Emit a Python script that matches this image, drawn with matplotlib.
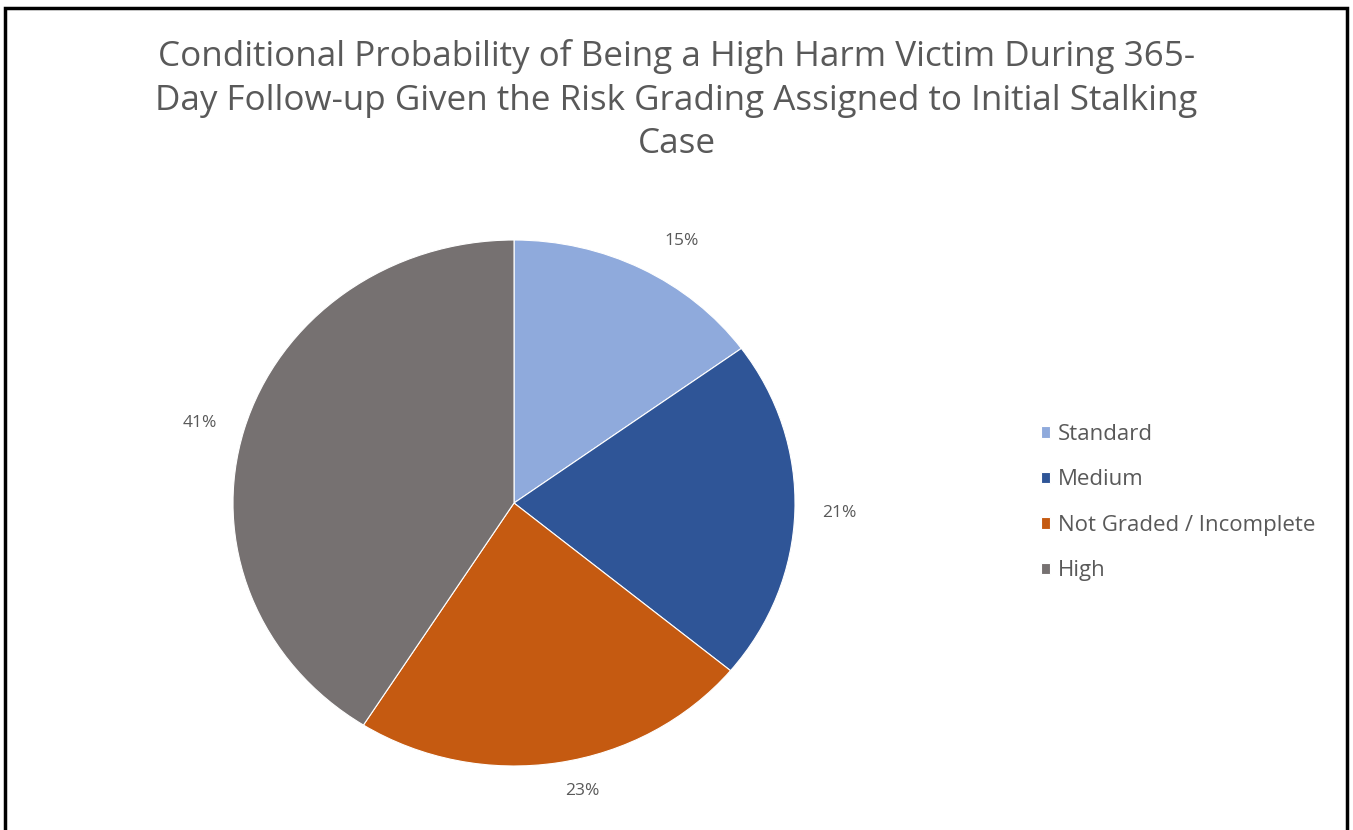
import matplotlib
matplotlib.use("Agg")
import matplotlib.pyplot as plt
import numpy as np
from matplotlib.patches import Rectangle

# Share of high harm victims by initial risk grading
categories = ["Standard", "Medium", "Not Graded / Incomplete", "High"]
shares = [15, 21, 23, 41]
colors = ["#8FAADC", "#2F5597", "#C55A11", "#767171"]

title = ("Conditional Probability of Being a High Harm Victim During 365-\n"
         "Day Follow-up Given the Risk Grading Assigned to Initial Stalking\n"
         "Case")

W, H = 1353, 830
plt.rcParams["font.family"] = ["Open Sans", "DejaVu Sans"]
fig = plt.figure(figsize=(W / 100, H / 100), dpi=100)

# pie box in pixel terms (centre ~514,503)
left, right, top, bottom = 233, 795, 240, 766
ax = fig.add_axes([left / W, (H - bottom) / H, (right - left) / W, (bottom - top) / H])
wedges, texts, autotexts = ax.pie(
    shares, colors=colors, startangle=90, counterclock=False,
    autopct="%1.0f%%", pctdistance=1.16,
    wedgeprops=dict(edgecolor="white", linewidth=0.8),
    textprops=dict(color="#595959", fontsize=12.5),
)
ax.set_aspect("auto")
ax.set_xlim(-1, 1)
ax.set_ylim(-1, 1)

# best-fit style label placement: small angular shift and radius per slice
label_shift = [-4.0, 0.0, 3.5, 1.0]
label_radius = [1.16, 1.16, 1.12, 1.16]
for w, t, da, r in zip(wedges, autotexts, label_shift, label_radius):
    ang = np.deg2rad((w.theta1 + w.theta2) / 2 + da)
    t.set_position((r * np.cos(ang), r * np.sin(ang)))

fig.text(0.5, 1 - 100 / H, title, ha="center", va="center", fontsize=25.2,
         color="#595959", linespacing=1.38)

ax.legend(wedges, categories, loc="upper left",
          bbox_to_anchor=(1032 / W, 1 - 415 / H), bbox_transform=fig.transFigure,
          frameon=False, fontsize=16, labelcolor="#595959",
          handlelength=0.42, handleheight=0.42, handletextpad=0.35,
          labelspacing=1.1, borderaxespad=0)

# outer frame around the chart area
fig.add_artist(Rectangle((5 / W, -0.05), (1347 - 5) / W, 1.05 - 8 / H,
                         transform=fig.transFigure, fill=False,
                         edgecolor="black", linewidth=2.5))

fig.savefig("out.png", dpi=100, facecolor="white")
